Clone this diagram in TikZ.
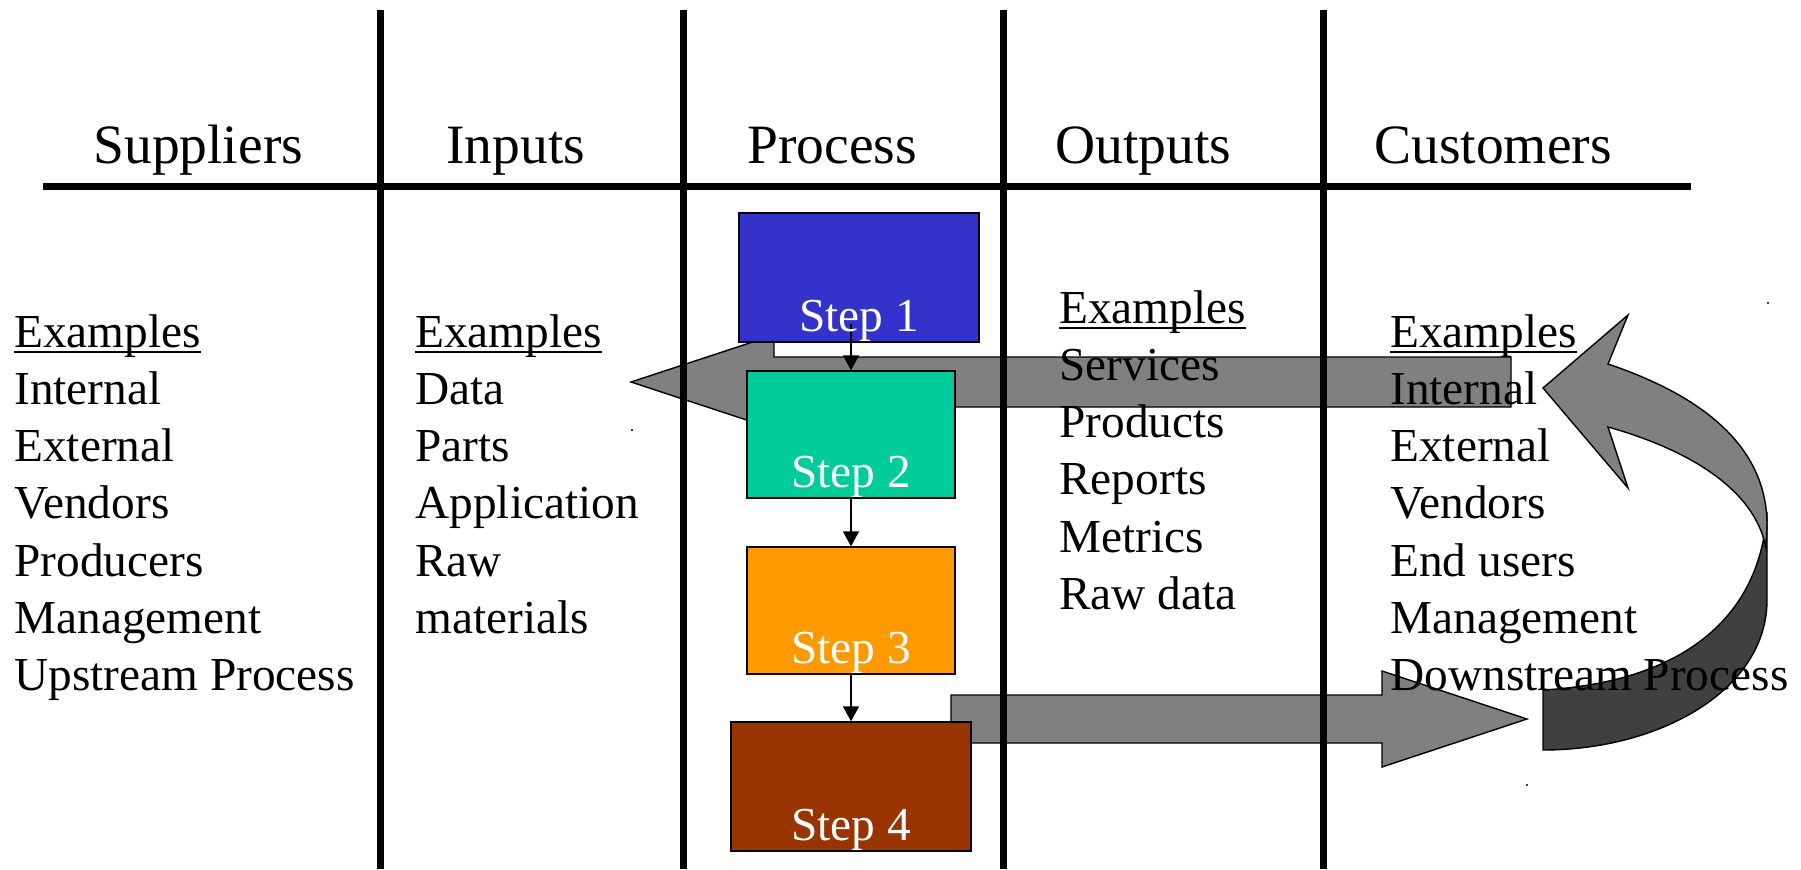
\documentclass[tikz,border=0pt]{standalone}
\usepackage{fontspec}
\setmainfont{Liberation Serif}
\usetikzlibrary{arrows.meta}

\definecolor{bandlight}{HTML}{808080}
\definecolor{banddark}{HTML}{404040}
\definecolor{stepA}{HTML}{3333CC}
\definecolor{stepB}{HTML}{00CC99}
\definecolor{stepC}{HTML}{FF9900}
\definecolor{stepD}{HTML}{993300}

\begin{document}
\begin{tikzpicture}[x=0.5pt,y=-0.5pt,
  txt/.style={inner sep=0pt, anchor=base west, font=\fontsize{23.65pt}{28pt}\selectfont},
  headtxt/.style={inner sep=0pt, anchor=base west, font=\fontsize{27.75pt}{33pt}\selectfont},
  gridline/.style={line width=3.5pt},
  band/.style={draw=black, line width=0.7pt, line join=miter},
  stepbox/.style={draw=black, line width=0.7pt, inner sep=0pt},
  steplabel/.style={inner sep=0pt, anchor=base, text=white, font=\fontsize{23.65pt}{28pt}\selectfont},
  conn/.style={line width=0.75pt, -{Triangle[length=7.5pt,width=8pt]}},
  uline/.style={line width=1.25pt}]
\useasboundingbox (0,0) rectangle (1801,869);

% ---- feedback arrow pointing back to the suppliers
\draw[band, fill=bandlight] (631,382) -- (774,335) -- (774,357) -- (1511,357)
  -- (1511,407) -- (774,407) -- (774,429) -- cycle;

% ---- output arrow pointing to the customers
\draw[band, fill=bandlight] (951,695) -- (1382,695) -- (1382,671) -- (1527,719)
  -- (1382,767) -- (1382,743) -- (951,743) -- cycle;

% ---- curved return arrow: back face of the ribbon
\draw[band, fill=banddark] (1767,512) -- (1767,600)
  .. controls (1767,690) and (1660,750) .. (1543,750) -- (1543,690)
  .. controls (1680,682) and (1760,620) .. (1767,512) -- cycle;
% front face with the arrow head
\draw[band, fill=bandlight] (1543,388) -- (1628,315) -- (1608,364)
  .. controls (1700,395) and (1767,445) .. (1767,525) -- (1766,548)
  .. controls (1755,490) and (1690,450) .. (1608,427) -- (1628,488) -- cycle;

% ---- process steps
\node[stepbox, fill=stepA, minimum width=120pt, minimum height=64.5pt] (s1) at (859,277.5) {};
\node[stepbox, fill=stepB, minimum width=104pt, minimum height=63.5pt] (s2) at (851,434.5) {};
\node[stepbox, fill=stepC, minimum width=104pt, minimum height=63.5pt] (s3) at (851,610.5) {};
\node[stepbox, fill=stepD, minimum width=120pt, minimum height=64.5pt] (s4) at (851,786.5) {};

\coordinate (c1) at ([yshift=9.5pt]s1.south);
\draw[conn] (c1 -| s2.north) -- (s2.north);
\draw[conn] (s2.south) -- (s3.north);
\draw[conn] (s3.south) -- (s4.north);

\node[steplabel] (l1) at ([yshift=5.5pt]s1.south) {Step 1};
\node[steplabel] (l2) at ([yshift=5.5pt]s2.south) {Step 2};
\node[steplabel] (l3) at ([yshift=5.5pt]s3.south) {Step 3};
\node[steplabel] (l4) at ([yshift=5.5pt]s4.south) {Step 4};

% ---- table rules
\draw[gridline] (43,186) -- (1691,186);
\foreach \xx in {380,683,1003,1323}
  \draw[gridline] (\xx,10) -- (\xx,869);

% ---- column headings
\node[headtxt] (hS) at (93,163)   {Suppliers};
\node[headtxt] (hI) at (446,163)  {Inputs};
\node[headtxt] (hP) at (747,163)  {Process};
\node[headtxt] (hO) at (1055,163) {Outputs};
\node[headtxt] (hC) at (1374,163) {Customers};

% ---- suppliers
\node[txt] (exS) at (14,347) {Examples};
\draw[uline] ([yshift=-2.5pt]exS.base west) -- ([yshift=-2.5pt]exS.base east);
\foreach \t [count=\i] in {Internal,External,Vendors,Producers,Management,Upstream Process}
  \node[txt] (sup\i) at (14,347+57.3*\i) {\t};

% ---- inputs
\node[txt] (exI) at (415,347) {Examples};
\draw[uline] ([yshift=-2.5pt]exI.base west) -- ([yshift=-2.5pt]exI.base east);
\foreach \t [count=\i] in {Data,Parts,Application,Raw,materials}
  \node[txt] (inp\i) at (415,347+57.3*\i) {\t};

% ---- outputs
\node[txt] (exO) at (1059,323) {Examples};
\draw[uline] ([yshift=-2.5pt]exO.base west) -- ([yshift=-2.5pt]exO.base east);
\foreach \t [count=\i] in {Services,Products,Reports,Metrics,Raw data}
  \node[txt] (out\i) at (1059,323+57.3*\i) {\t};

% ---- customers
\node[txt] (exC) at (1390,347) {Examples};
\draw[uline] ([yshift=-2.5pt]exC.base west) -- ([yshift=-2.5pt]exC.base east);
\foreach \t [count=\i] in {Internal,External,Vendors,End users,Management,Downstream Process}
  \node[txt] (cus\i) at (1390,347+57.3*\i) {\t};

% ---- stray specks
\fill (1768,303) circle (0.6pt);
\fill (1527,785) circle (0.6pt);
\fill (632,430) circle (0.6pt);
\end{tikzpicture}
\end{document}
